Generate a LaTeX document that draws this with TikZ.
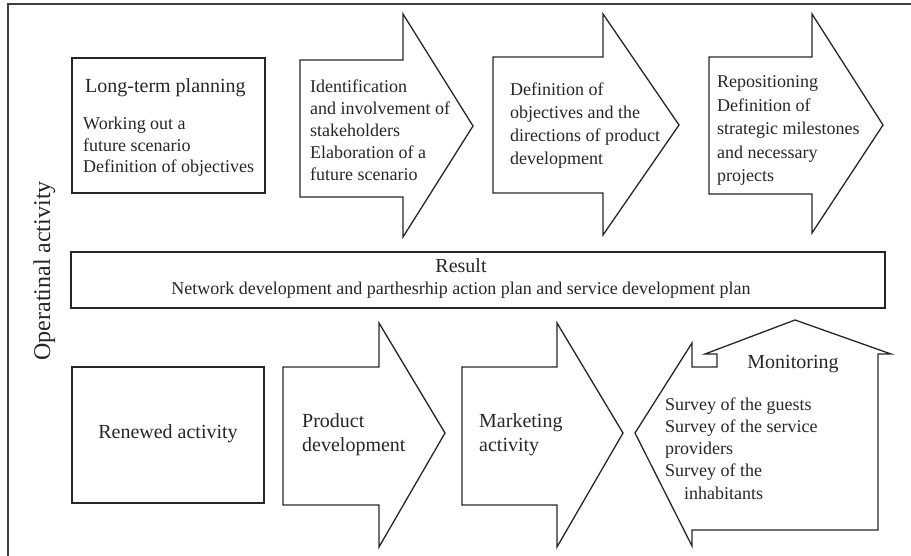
\documentclass[tikz,border=0pt]{standalone}
\usepackage{fontspec}
\setmainfont{Liberation Serif}
\usepackage{tikz}

\begin{document}
\begin{tikzpicture}[x=1pt, y=-1pt,
  outline/.style={draw=black!85, line width=1.3pt, line join=miter},
  frame/.style={draw=black!75, line width=2pt},
  txt/.style={inner sep=0pt, align=left, text=black!85, font=\fontsize{18}{22}\selectfont},
  head/.style={inner sep=0pt, text=black!85, font=\fontsize{20}{24}\selectfont}]
\useasboundingbox (0,0) rectangle (911,556);
\draw[frame] (8,556) -- (8,4) -- (911,4);
% upper row
\draw[outline] (72,58) rectangle (265,193);
\draw[outline] (300,60) -- (403,60) -- (403,14) -- (473,126) -- (403,237) -- (403,197) -- (300,197) -- cycle;
\draw[outline] (493,57) -- (603,57) -- (603,14) -- (679,125) -- (603,235) -- (603,193) -- (493,193) -- cycle;
\draw[outline] (709,57) -- (812,57) -- (812,14) -- (883,125) -- (812,233) -- (812,194) -- (709,194) -- cycle;
% multi-line texts sit on the baseline of their last line
\node[head, anchor=base west] (planning) at (85,93) {Long-term planning};
\node[txt, anchor=base west, font=\fontsize{18}{21.5}\selectfont] (scenario) at (83,173) {Working out a\\future scenario\\Definition of objectives};
\node[txt, anchor=base west] (stakeholders) at (310,181) {Identification\\and involvement of\\stakeholders\\Elaboration of a\\future scenario};
\node[txt, anchor=base west, font=\fontsize{18}{23.3}\selectfont] (objectives) at (510,165) {Definition of\\objectives and the\\directions of product\\development};
\node[txt, anchor=base west, font=\fontsize{18}{23.5}\selectfont] (milestones) at (717,182) {Repositioning\\Definition of\\strategic milestones\\and necessary\\projects};
% result
\draw[outline] (71,252) rectangle (885,308);
\node[head, anchor=base] (result) at (461,273) {Result};
\node[txt, anchor=base] (plans) at (461,295) {Network development and parthesrhip action plan and service development plan};
% lower row
\draw[outline] (72,367) rectangle (264,503);
\draw[outline] (283,367) -- (379,367) -- (379,323) -- (445,433) -- (379,547) -- (379,505) -- (283,505) -- cycle;
\draw[outline] (462,367) -- (557,367) -- (557,323) -- (623,433) -- (557,547) -- (557,505) -- (462,505) -- cycle;
\draw[outline] (635,433) -- (692,343) -- (692,367) -- (717,367) -- (717,354) -- (705,354) -- (795,320)
  -- (891,354) -- (878,354) -- (878,530) -- (692,530) -- (692,546) -- cycle;
\node[head, anchor=base] (renewed) at (168,438) {Renewed activity};
\node[head, anchor=base west, align=left] (product) at (302,451) {Product\\development};
\node[head, anchor=base west, align=left] (marketing) at (479,451) {Marketing\\activity};
\node[head, anchor=base] (monitoring) at (793,368) {Monitoring};
\node[txt, anchor=base west, font=\fontsize{18}{22.25}\selectfont] (surveys) at (665,499) {Survey of the guests\\Survey of the service\\providers\\Survey of the\\\hspace*{19pt}inhabitants};
\node[inner sep=0pt, rotate=90, anchor=base, text=black!85, font=\fontsize{24}{28}\selectfont] (operatinal) at (50,271) {Operatinal activity};
\end{tikzpicture}
\end{document}
